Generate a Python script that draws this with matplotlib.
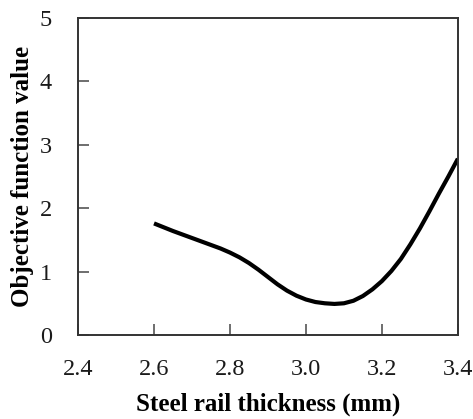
import matplotlib
matplotlib.use("Agg")
import matplotlib.pyplot as plt

# Objective function vs. steel rail thickness
thickness = [2.600, 2.625, 2.650, 2.675, 2.700, 2.725, 2.750, 2.775, 2.800,
             2.825, 2.850, 2.875, 2.900, 2.925, 2.950, 2.975, 3.000,
             3.025, 3.050, 3.075, 3.100, 3.125, 3.150, 3.175, 3.200,
             3.225, 3.250, 3.275, 3.300, 3.325, 3.350, 3.375, 3.400]
objective = [1.76, 1.70, 1.64, 1.585, 1.53, 1.475, 1.42, 1.365, 1.30,
             1.225, 1.135, 1.03, 0.915, 0.80, 0.70, 0.62, 0.56,
             0.52, 0.50, 0.49, 0.50, 0.54, 0.615, 0.72, 0.85,
             1.01, 1.20, 1.43, 1.68, 1.95, 2.23, 2.50, 2.78]

x_ticks = [2.4, 2.6, 2.8, 3.0, 3.2, 3.4]
x_tick_labels = ["2.4", "2.6", "2.8", "3.0", "3.2", "3.4"]
y_ticks = [0, 1, 2, 3, 4, 5]

plt.rcParams["font.family"] = ["Liberation Serif", "DejaVu Serif"]

fig = plt.figure(figsize=(4.73, 4.19), dpi=100)
ax = fig.add_axes([0.165, 0.2005, 0.803, 0.7565])

ax.plot(thickness, objective, color="black", lw=3.0,
        solid_joinstyle="round", solid_capstyle="butt")

ax.set_xlim(2.4, 3.4)
ax.set_ylim(0, 5)
ax.set_xticks(x_ticks)
ax.set_xticklabels(x_tick_labels)
ax.set_yticks(y_ticks)

for side in ax.spines.values():
    side.set_color("#333333")
    side.set_linewidth(1.4)

ax.tick_params(direction="in", length=8, width=1.2, color="#555555",
               labelsize=17.5, labelcolor="#1a1a1a")
ax.tick_params(axis="x", pad=17)
ax.tick_params(axis="y", pad=19)

ax.set_xlabel("Steel rail thickness (mm)", fontsize=18, fontweight="bold",
              labelpad=9)
ax.set_ylabel("Objective function value", fontsize=18, fontweight="bold",
              labelpad=4)

fig.savefig("out.png", dpi=100)
